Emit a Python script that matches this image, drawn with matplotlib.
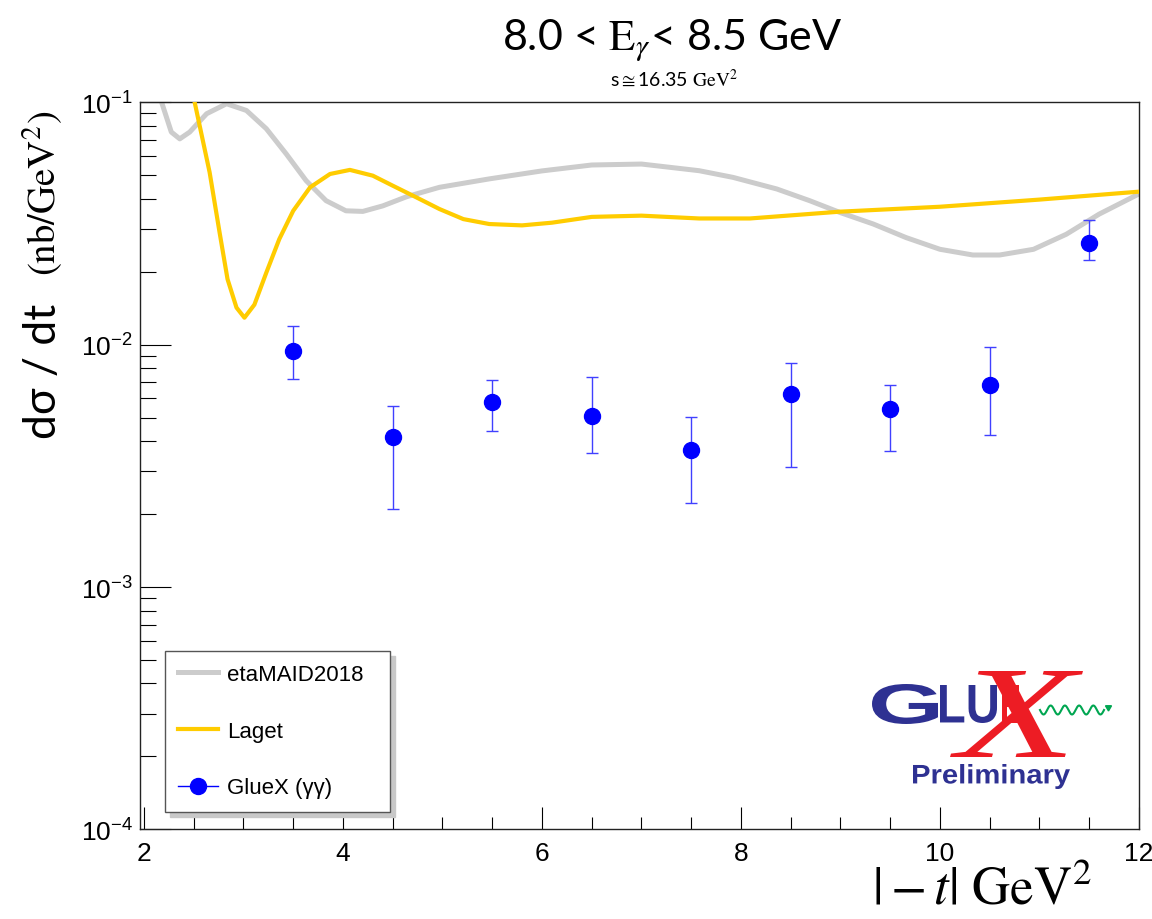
import numpy as np
import matplotlib
matplotlib.use('Agg')
import matplotlib.pyplot as plt
from matplotlib.lines import Line2D
from matplotlib.ticker import MultipleLocator, LogLocator, NullFormatter
from matplotlib.textpath import TextPath
from matplotlib.patches import PathPatch
from matplotlib.font_manager import FontProperties
from matplotlib.transforms import Affine2D

plt.rcParams['font.family'] = ['Liberation Sans', 'DejaVu Sans']
plt.rcParams['mathtext.fontset'] = 'custom'
plt.rcParams['mathtext.rm'] = 'Liberation Sans'
plt.rcParams['mathtext.it'] = 'Liberation Sans:italic'
plt.rcParams['mathtext.bf'] = 'Liberation Sans:bold'

# etaMAID2018 prediction
maid_t = [2.10, 2.275, 2.36, 2.46, 2.63, 2.83, 3.03, 3.23, 3.43, 3.63, 3.83, 4.03, 4.20,
          4.40, 4.64, 4.97, 5.47, 6.00, 6.50, 7.00, 7.58, 7.92, 8.36, 8.69, 8.99, 9.33,
          9.66, 10.00, 10.33, 10.60, 10.94, 11.27, 11.60, 12.00]
maid_xs = [0.125, 0.0752, 0.0705, 0.0752, 0.0895, 0.0984, 0.0923, 0.0776, 0.0611, 0.0474,
           0.0392, 0.0356, 0.0354, 0.0373, 0.0407, 0.0445, 0.0482, 0.0520, 0.0550, 0.0555,
           0.0521, 0.0489, 0.0438, 0.0392, 0.0351, 0.0314, 0.0276, 0.0247, 0.0234, 0.0234,
           0.0247, 0.0285, 0.0345, 0.0418]

# Laget prediction
laget_t = [2.45, 2.66, 2.76, 2.84, 2.93, 3.01, 3.11, 3.23, 3.36, 3.50, 3.67, 3.87, 4.07,
           4.30, 4.50, 4.74, 4.97, 5.21, 5.47, 5.80, 6.10, 6.50, 7.00, 7.58, 8.09, 8.99,
           10.00, 11.00, 12.00]
laget_xs = [0.130, 0.0513, 0.0290, 0.0186, 0.0142, 0.0129, 0.0146, 0.0198, 0.0272, 0.0356,
            0.0445, 0.0505, 0.0525, 0.0497, 0.0452, 0.0404, 0.0362, 0.0329, 0.0314, 0.0310,
            0.0318, 0.0336, 0.0340, 0.0331, 0.0331, 0.0353, 0.0370, 0.0396, 0.0427]

# GlueX (gamma gamma) measurement
gluex_t = [3.5, 4.5, 5.5, 6.5, 7.5, 8.5, 9.5, 10.5, 11.5]
gluex_xs = [0.00938, 0.00416, 0.00577, 0.00507, 0.00369, 0.00625, 0.00543, 0.00683, 0.0261]
gluex_hi = [0.0119, 0.00559, 0.00712, 0.00732, 0.00502, 0.00842, 0.00683, 0.00978, 0.0326]
gluex_lo = [0.00718, 0.00209, 0.00441, 0.00358, 0.00222, 0.00312, 0.00365, 0.00424, 0.0223]

W, H = 1152, 920
fig = plt.figure(figsize=(W / 100, H / 100), dpi=100)
ax = fig.add_axes([0.1215, 0.0973, 0.8672, 0.7907])

ax.plot(maid_t, maid_xs, color='#cccccc', lw=3.6, solid_joinstyle='round', zorder=2)
ax.plot(laget_t, laget_xs, color='#ffcc00', lw=3.0, solid_joinstyle='round', zorder=3)

xs = np.array(gluex_xs)
yerr = [xs - np.array(gluex_lo), np.array(gluex_hi) - xs]
ax.errorbar(gluex_t, xs, yerr=yerr, fmt='none', ecolor='#4040ff', elinewidth=1.0,
            capsize=4, capthick=1.0, zorder=4)
ax.plot(gluex_t, xs, 'o', color='#0000ff', ms=11.5, mec='#0000ff', zorder=5)

ax.set_yscale('log')
ax.set_xlim(1.96, 12.0)
ax.set_ylim(1e-4, 1e-1)
ax.xaxis.set_major_locator(MultipleLocator(2))
ax.xaxis.set_minor_locator(MultipleLocator(0.5))
ax.yaxis.set_minor_locator(LogLocator(base=10, subs=np.arange(2, 10)))
ax.yaxis.set_minor_formatter(NullFormatter())

ax.tick_params(axis='both', which='both', direction='in', top=False, right=False,
               color='black', width=0.8, labelsize=19)
ax.tick_params(axis='x', which='major', length=16, pad=8)
ax.tick_params(axis='x', which='minor', length=8.5)
ax.tick_params(axis='y', which='major', length=22, pad=5)
ax.tick_params(axis='y', which='minor', length=11.5)
for sp in ax.spines.values():
    sp.set_color('#222222')
    sp.set_linewidth(1.0)

# legend in the ROOT style
handles = [Line2D([], [], color='#cccccc', lw=3.6),
           Line2D([], [], color='#ffcc00', lw=3.0),
           Line2D([], [], color='#0000ff', lw=1.0, marker='o', ms=11.5)]
labels = ['etaMAID2018', 'Laget', 'GlueX (γγ)']
leg = ax.legend(handles, labels, loc='lower left', bbox_to_anchor=(0.025, 0.0245, 0.225, 0.225),
                mode='expand', borderaxespad=0, fontsize=16, fancybox=False, framealpha=1,
                edgecolor='#555555', borderpad=0.6, labelspacing=1.6, handlelength=1.8,
                handletextpad=0.4,
                shadow={'color': '#c8c8c8', 'alpha': 1, 'ox': 3.5, 'oy': -3.5})
leg.get_frame().set_linewidth(1.0)

# titles and axis labels
fig.text(672.5 / W, 1 - 50 / H, r'8.0 < $\mathrm{E}_{\gamma}$< 8.5 GeV', ha='center',
         va='baseline', fontsize=31, family=['Lato', 'DejaVu Sans'], math_fontfamily='stix')
fig.text(674 / W, 1 - 86 / H, r's$\cong$16.35 $\mathrm{GeV}^{2}$', ha='center', va='baseline',
         fontsize=14, family=['Lato', 'DejaVu Sans'], math_fontfamily='stix')
fig.text(43 / W, 1 - 371 / H, 'dσ / dt', rotation=90, ha='center', va='center',
         fontsize=32, family=['Lato', 'DejaVu Sans'])
fig.text(43 / W, 1 - 193.5 / H, r'$\mathrm{(nb/GeV^{2})}$', rotation=90, ha='center',
         va='center', fontsize=28, math_fontfamily='stix')
fig.text(1092 / W, 1 - 891 / H, r'$|-t|\ \mathrm{GeV}^{2}$', ha='right', va='center',
         fontsize=38, math_fontfamily='stix')


# GlueX Preliminary logo
def logo_text(s, box, color, fp, z=10):
    tp = TextPath((0, 0), s, size=100, prop=fp)
    bb = tp.get_extents()
    x0, y0, x1, y1 = box
    fx0, fx1 = x0 / W, x1 / W
    fy0, fy1 = 1 - y1 / H, 1 - y0 / H
    tr = (Affine2D().translate(-bb.x0, -bb.y0)
          .scale((fx1 - fx0) / bb.width, (fy1 - fy0) / bb.height)
          .translate(fx0, fy0))
    fig.add_artist(PathPatch(tr.transform_path(tp), fc=color, ec='none',
                             transform=fig.transFigure, zorder=z))


navy = '#2e3192'
red = '#ed1c24'
bold = FontProperties(family='Liberation Sans', weight='bold')
logo_text('G', (872, 685, 938, 725), navy, bold)
logo_text('LU', (940, 686, 997, 724), navy, bold)
logo_text('X', (950, 672, 1083, 758), red,
          FontProperties(family='Liberation Serif', style='italic'))
logo_text('E', (1002, 686, 1020, 724), red, bold, z=11)
logo_text('Preliminary', (913, 765, 1070, 790), navy, bold)
wx = np.linspace(1040, 1104, 200)
wy = 711 + 4.5 * np.sin((wx - 1040) / 64 * 4.5 * 2 * np.pi)
fig.add_artist(Line2D(wx / W, 1 - wy / H, color='#00a651', lw=1.5, transform=fig.transFigure,
                      zorder=10))
fig.add_artist(Line2D([1108 / W], [1 - 708 / H], color='#00a651', marker=(3, 0, -60), ms=5,
                      lw=0, transform=fig.transFigure, zorder=10))

fig.savefig('out.png', dpi=100)
